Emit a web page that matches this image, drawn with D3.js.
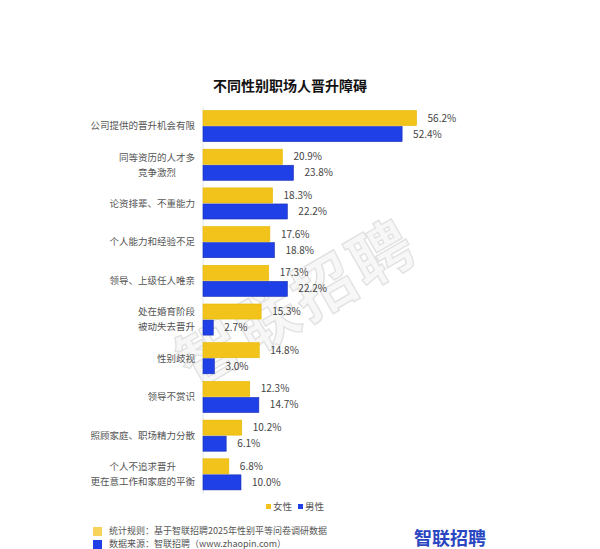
<!DOCTYPE html>
<html>
<head>
<meta charset="utf-8">
<script src="https://cdn.jsdelivr.net/npm/d3@7"></script>
<style>
  body { margin: 0; background: #fff; }
  svg { font-family: "Noto Sans CJK SC", "Noto Sans", sans-serif; }
</style>
</head>
<body>
<div id="chart"></div>
<script>
// data
const categories = [
    ["公司提供的晋升机会有限"],
    ["同等资历的人才多", "竞争激烈"],
    ["论资排辈、不重能力"],
    ["个人能力和经验不足"],
    ["领导、上级任人唯亲"],
    ["处在婚育阶段", "被动失去晋升"],
    ["性别歧视"],
    ["领导不赏识"],
    ["照顾家庭、职场精力分散"],
    ["个人不追求晋升", "更在意工作和家庭的平衡"]
];
const female = [56.2, 20.9, 18.3, 17.6, 17.3, 15.3, 14.8, 12.3, 10.2, 6.8];
const male = [52.4, 23.8, 22.2, 18.8, 22.2, 2.7, 3.0, 14.7, 6.1, 10.0];
const seriesNames = ["女性", "男性"];
const colors = ["#f2c31a", "#1f40e6"];
const strokes = ["#e6b800", "#1a2fb0"];

const width = 600, height = 549;

const svg = d3.select("#chart")
    .append("svg")
    .attr("width", width)
    .attr("height", height);

const rows = categories.map((c, i) => ({ key: i, lines: c, values: [female[i], male[i]] }));

// scales
const x = d3.scaleLinear().domain([0, 60]).range([203, 431]);
const y = d3.scaleBand()
    .domain(rows.map(d => d.key))
    .range([106.7, 493.7])
    .paddingInner(0.17)
    .paddingOuter(0.085);
const ySub = d3.scaleBand().domain([0, 1]).range([0, y.bandwidth()]);

// watermark
svg.append("text")
    .attr("transform", "translate(308,322) rotate(-30)")
    .attr("text-anchor", "middle")
    .style("font-size", "62px")
    .style("font-weight", "bold")
    .attr("fill", "#f7f7f7")
    .attr("stroke", "#e2e2e2")
    .attr("stroke-width", 1.4)
    .style("letter-spacing", "4px")
    .text("智联招聘");

// title
svg.append("text")
    .attr("x", 290).attr("y", 91)
    .attr("text-anchor", "middle")
    .style("font-size", "14px")
    .style("font-weight", "bold")
    .attr("fill", "#111")
    .text("不同性别职场人晋升障碍");

// axis line
svg.append("line")
    .attr("x1", x(0)).attr("x2", x(0))
    .attr("y1", y.range()[0]).attr("y2", y.range()[1])
    .attr("stroke", "#dde6f2");

// bars
const groups = svg.append("g")
    .selectAll("g")
    .data(rows)
    .join("g")
    .attr("transform", d => `translate(0,${y(d.key)})`);

groups.selectAll("rect")
    .data(d => d.values.map((v, s) => ({ v, s })))
    .join("rect")
    .attr("x", x(0))
    .attr("y", d => ySub(d.s) + 0.5)
    .attr("width", d => x(d.v) - x(0))
    .attr("height", ySub.bandwidth() - 1)
    .attr("fill", d => colors[d.s])
    .attr("stroke", d => strokes[d.s])
    .attr("stroke-width", 0.6);

groups.selectAll("text.val")
    .data(d => d.values.map((v, s) => ({ v, s })))
    .join("text")
    .attr("class", "val")
    .attr("x", d => x(d.v) + 11)
    .attr("y", d => ySub(d.s) + ySub.bandwidth() / 2)
    .attr("dy", "0.35em")
    .style("font-size", "10px")
    .attr("fill", "#444")
    .text(d => d.v.toFixed(1) + "%");

// category labels (two-line ones are centred under their widest line)
groups.each(function (d) {
    const g = d3.select(this);
    const n = d.lines.length;
    const t = g.append("text")
        .style("font-size", "9.5px")
        .attr("fill", "#555");
    d.lines.forEach((line, i) => {
        t.append("tspan")
            .attr("y", y.bandwidth() / 2 + (i - (n - 1) / 2) * 15)
            .attr("dy", "0.35em")
            .text(line);
    });
    if (n === 1) {
        t.attr("text-anchor", "end").selectAll("tspan").attr("x", 195);
    } else {
        let maxW = 0;
        t.selectAll("tspan").each(function () { maxW = Math.max(maxW, this.getComputedTextLength()); });
        t.attr("text-anchor", "middle").selectAll("tspan").attr("x", 195 - maxW / 2);
    }
});

// legend
const legend = svg.append("g")
    .selectAll("g")
    .data(seriesNames)
    .join("g")
    .attr("transform", (d, i) => `translate(${266 + i * 32},507)`);
legend.append("rect")
    .attr("x", 0).attr("y", -3)
    .attr("width", 5).attr("height", 5)
    .attr("fill", (d, i) => colors[i]);
legend.append("text")
    .attr("x", 7).attr("dy", "0.35em")
    .style("font-size", "9.5px")
    .attr("fill", "#555")
    .text(d => d);

// footer notes
const notes = ["统计规则：基于智联招聘2025年性别平等问卷调研数据", "数据来源：智联招聘（www.zhaopin.com）"];
const foot = svg.append("g")
    .selectAll("g")
    .data(notes)
    .join("g")
    .attr("transform", (d, i) => `translate(93,${531 + i * 13})`);
foot.append("rect")
    .attr("x", 0).attr("y", -4)
    .attr("width", 9).attr("height", 9)
    .attr("fill", (d, i) => i === 0 ? "#f7d35a" : "#1f40e6");
foot.append("text")
    .attr("x", 16).attr("dy", "0.35em")
    .style("font-size", "9px")
    .attr("fill", "#555")
    .text(d => d);

// logo
svg.append("text")
    .attr("x", 450).attr("y", 545)
    .attr("text-anchor", "middle")
    .style("font-size", "18px")
    .style("font-weight", "bold")
    .attr("fill", "#2a46c0")
    .text("智联招聘");
</script>
</body>
</html>
